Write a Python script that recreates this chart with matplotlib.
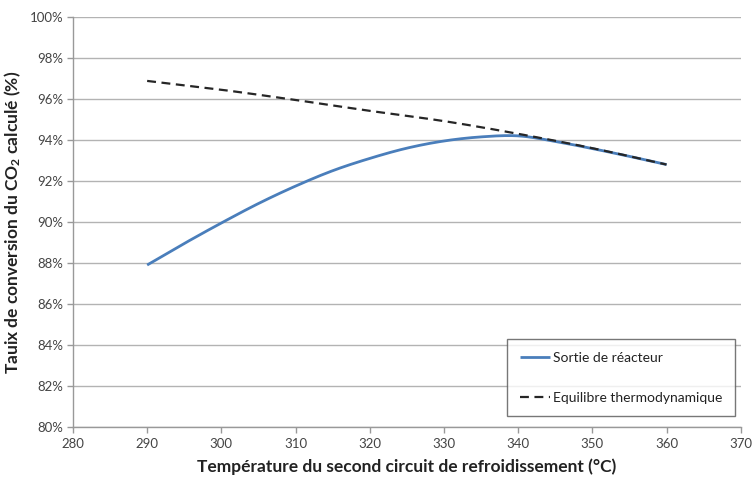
import matplotlib
matplotlib.use("Agg")
import matplotlib.pyplot as plt
import numpy as np
from matplotlib.ticker import FuncFormatter, MultipleLocator

plt.rcParams['font.family'] = ['Lato', 'DejaVu Sans']
plt.rcParams['mathtext.default'] = 'regular'

temps = [290, 295, 300, 305, 310, 315, 320, 325, 330, 335, 340, 345, 350, 355, 360]
sortie = [87.9, 88.95, 89.95, 90.9, 91.75, 92.5, 93.1, 93.6, 93.95, 94.15, 94.2, 93.93, 93.58, 93.2, 92.8]
eq_temps = [290, 300, 310, 320, 330, 340, 350, 360]
equilibre = [96.88, 96.45, 95.95, 95.42, 94.92, 94.3, 93.6, 92.8]

label_sortie = "Sortie de réacteur"
label_eq = "Equilibre thermodynamique"
xlabel = "Température du second circuit de refroidissement (°C)"
ylabel = "Tauix de conversion du CO$_2$ calculé (%)"

fig = plt.figure(figsize=(7.52, 4.79), dpi=100)
ax = fig.add_axes([0.097, 0.1086, 0.888, 0.856])


def smooth(x, y, n=300):
    x = np.asarray(x, float); y = np.asarray(y, float)
    yp = np.concatenate([[2 * y[0] - y[1]], y, [2 * y[-1] - y[-2]]])
    xs = np.linspace(x.min(), x.max(), n)
    out = []
    for xv in xs:
        i = int(np.clip(np.searchsorted(x, xv) - 1, 0, len(x) - 2))
        p0, p1, p2, p3 = yp[i], yp[i + 1], yp[i + 2], yp[i + 3]
        t = (xv - x[i]) / (x[i + 1] - x[i])
        out.append(0.5 * ((2 * p1) + (-p0 + p2) * t + (2 * p0 - 5 * p1 + 4 * p2 - p3) * t ** 2
                          + (-p0 + 3 * p1 - 3 * p2 + p3) * t ** 3))
    return xs, np.array(out)


xs1, ys1 = smooth(temps, sortie)
xs2, ys2 = smooth(eq_temps, equilibre)

ax.plot(xs1, ys1, color='#4a7ebb', lw=2.0, label=label_sortie, solid_capstyle='butt')
ax.plot(xs2, ys2, color='#262626', lw=1.6, linestyle=(0, (4, 2.5)), label=label_eq)

ax.set_xlim(280, 370)
ax.set_ylim(80, 100)
ax.xaxis.set_major_locator(MultipleLocator(10))
ax.yaxis.set_major_locator(MultipleLocator(2))
ax.yaxis.set_major_formatter(FuncFormatter(lambda v, p: f"{v:.0f}%"))

ax.grid(axis='y', color='#b3b3b3', lw=1.0)
ax.set_axisbelow(True)
for s in ['top', 'right']:
    ax.spines[s].set_visible(False)
for s in ['left', 'bottom']:
    ax.spines[s].set_color('#999999')
    ax.spines[s].set_linewidth(1.0)
ax.tick_params(axis='both', colors='#999999', labelcolor='#444444', labelsize=9.5, length=4, width=1)
ax.tick_params(axis='x', pad=4)
ax.tick_params(axis='y', pad=3)

ax.set_xlabel(xlabel, fontsize=12.5, fontweight='bold', color='#222222', labelpad=6)
ax.set_ylabel(ylabel, fontsize=12.5, fontweight='bold', color='#222222', labelpad=3)
ax.yaxis.set_label_coords(-0.075, 0.5)

leg = fig.legend(loc='lower left', bbox_to_anchor=(507 / 752, 1 - 416 / 479), fontsize=10,
                 frameon=True, fancybox=False, edgecolor='#555555', labelspacing=2.0,
                 handlelength=2.2, handletextpad=0.2, borderpad=0.9, borderaxespad=0)
leg.get_frame().set_linewidth(1.0)
for t in leg.get_texts():
    t.set_color('#222222')

fig.savefig("out.png", dpi=100)
